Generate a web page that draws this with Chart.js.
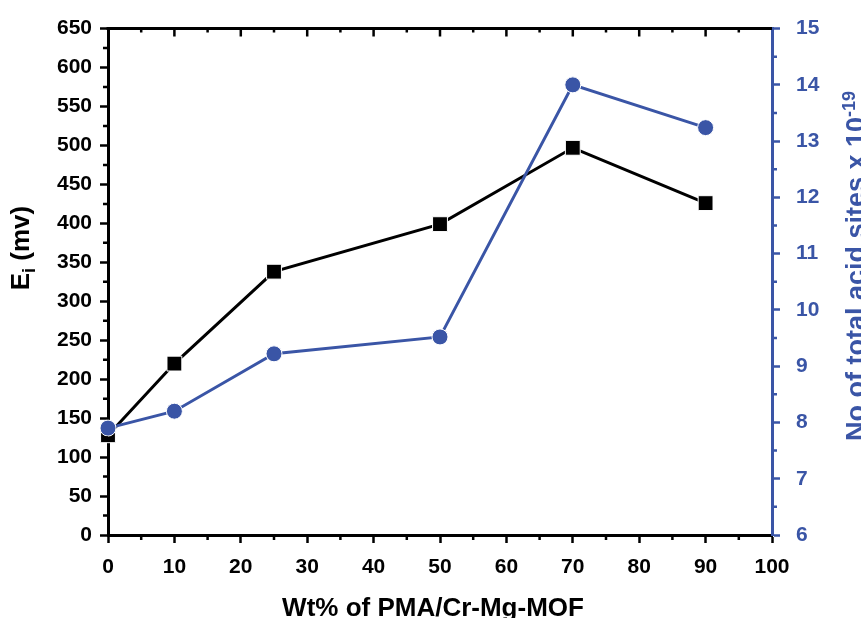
<!DOCTYPE html>
<html>
<head>
<meta charset="utf-8">
<script src="https://cdn.jsdelivr.net/npm/chart.js@4.4.1/dist/chart.umd.min.js"></script>
<style>
  html, body { margin: 0; padding: 0; background: #fff; }
  #wrap { width: 861px; height: 618px; }
</style>
</head>
<body>
<div id="wrap"><canvas id="eiChart" width="861" height="618"></canvas></div>
<script>
// values
const wtPercent = [0, 10, 25, 50, 70, 90];
const eiValues = [128, 220, 338, 399, 497, 426];
const acidSites = [7.9, 8.2, 9.22, 9.52, 14.0, 13.24];

const xMinorTicks = [5, 15, 25, 35, 45, 55, 65, 75, 85, 95];
const xMajorTicks = [10, 20, 30, 40, 50, 60, 70, 80, 90];

const BLUE = '#3a55a6';
const FONT = '"Liberation Sans", Arial, sans-serif';
const tickFont = { family: FONT, size: 21, weight: 'bold' };

// minor ticks, top frame and axis titles (Origin style)
const frameAndTitles = {
    id: 'frameAndTitles',
    afterDraw(chart) {
        const ctx = chart.ctx;
        const a = chart.chartArea;
        const x = chart.scales.x, y = chart.scales.y, y1 = chart.scales.y1;
        ctx.save();

        // top frame with inward ticks
        ctx.strokeStyle = '#000';
        ctx.lineWidth = 3;
        ctx.beginPath();
        ctx.moveTo(a.left - 1.5, a.top);
        ctx.lineTo(a.right, a.top);
        ctx.stroke();
        ctx.lineWidth = 2.5;
        ctx.beginPath();
        xMajorTicks.forEach(v => {
            const px = x.getPixelForValue(v);
            ctx.moveTo(px, a.top); ctx.lineTo(px, a.top + 8);
        });
        xMinorTicks.forEach(v => {
            const px = x.getPixelForValue(v);
            ctx.moveTo(px, a.top); ctx.lineTo(px, a.top + 4);
        });
        // bottom minor ticks
        xMinorTicks.forEach(v => {
            const px = x.getPixelForValue(v);
            ctx.moveTo(px, a.bottom); ctx.lineTo(px, a.bottom + 5);
        });
        // left minor ticks
        for (let v = 25; v < 650; v += 50) {
            const py = y.getPixelForValue(v);
            ctx.moveTo(a.left, py); ctx.lineTo(a.left - 5, py);
        }
        ctx.stroke();
        // right minor ticks
        ctx.strokeStyle = BLUE;
        ctx.beginPath();
        for (let v = 6.5; v < 15; v += 1) {
            const py = y1.getPixelForValue(v);
            ctx.moveTo(a.right, py); ctx.lineTo(a.right + 5, py);
        }
        ctx.stroke();

        // x title
        ctx.fillStyle = '#000';
        ctx.font = 'bold 26px ' + FONT;
        ctx.textAlign = 'center';
        ctx.textBaseline = 'alphabetic';
        ctx.fillText('Wt% of PMA/Cr-Mg-MOF', 433, 616);

        // left title: E_i (mv)
        ctx.save();
        ctx.translate(29, 248);
        ctx.rotate(-Math.PI / 2);
        ctx.textAlign = 'left';
        const big = 'bold 26px ' + FONT, small = 'bold 18px ' + FONT;
        ctx.font = big;
        const wE = ctx.measureText('E').width;
        const wRest = ctx.measureText(' (mv)').width;
        ctx.font = small;
        const wi = ctx.measureText('i').width;
        let sx = -(wE + wi + wRest) / 2;
        ctx.font = big;
        ctx.fillText('E', sx, 0);
        ctx.font = small;
        ctx.fillText('i', sx + wE, 6);
        ctx.font = big;
        ctx.fillText(' (mv)', sx + wE + wi, 0);
        ctx.restore();

        // right title: No of total acid sites x 10^-19
        ctx.save();
        ctx.translate(855, 266);
        ctx.rotate(-Math.PI / 2);
        ctx.fillStyle = BLUE;
        ctx.textAlign = 'left';
        ctx.font = 'bold 27px ' + FONT;
        const main = 'No of total acid sites x 10';
        const wm = ctx.measureText(main).width;
        ctx.font = small;
        const ws = ctx.measureText('-19').width;
        sx = -(wm + ws) / 2;
        ctx.font = 'bold 27px ' + FONT;
        ctx.fillText(main, sx, 10);
        ctx.font = small;
        ctx.fillText('-19', sx + wm, 0);
        ctx.restore();

        ctx.restore();
    }
};

const ctx = document.getElementById('eiChart').getContext('2d');
new Chart(ctx, {
    type: 'line',
    data: {
        datasets: [{
            label: 'No of total acid sites',
            data: wtPercent.map((w, i) => ({ x: w, y: acidSites[i] })),
            yAxisID: 'y1',
            borderColor: BLUE,
            backgroundColor: BLUE,
            borderWidth: 3,
            pointStyle: 'circle',
            pointRadius: 8,
            pointBorderColor: '#fff',
            pointBorderWidth: 1,
            clip: false
        }, {
            label: 'Ei (mv)',
            data: wtPercent.map((w, i) => ({ x: w, y: eiValues[i] })),
            yAxisID: 'y',
            borderColor: '#000',
            backgroundColor: '#000',
            borderWidth: 3,
            pointStyle: 'rect',
            pointRadius: 10.5,
            pointBorderColor: '#fff',
            pointBorderWidth: 1,
            clip: false
        }]
    },
    options: {
        responsive: false,
        animation: false,
        layout: { padding: { top: 24, left: 0, right: 0, bottom: 0 } },
        plugins: {
            legend: { display: false },
            tooltip: { enabled: false }
        },
        scales: {
            x: {
                type: 'linear',
                min: 0,
                max: 100,
                ticks: { stepSize: 10, color: '#000', font: tickFont, padding: 12, maxRotation: 0 },
                grid: { drawOnChartArea: false, drawTicks: true, tickLength: 8, tickWidth: 2.5, tickColor: '#000' },
                border: { color: '#000', width: 3 },
                afterFit: s => { s.height = 83; }
            },
            y: {
                position: 'left',
                min: 0,
                max: 650,
                ticks: { stepSize: 50, color: '#000', font: tickFont, padding: 8 },
                grid: { drawOnChartArea: false, drawTicks: true, tickLength: 8, tickWidth: 2.5, tickColor: '#000' },
                border: { color: '#000', width: 3 },
                afterFit: s => { s.width = 108; }
            },
            y1: {
                position: 'right',
                min: 6,
                max: 15,
                ticks: { stepSize: 1, color: BLUE, font: tickFont, padding: 16 },
                grid: { drawOnChartArea: false, drawTicks: true, tickLength: 8, tickWidth: 2.5, tickColor: BLUE },
                border: { color: BLUE, width: 3 },
                afterFit: s => { s.width = 89; }
            }
        }
    },
    plugins: [frameAndTitles]
});
</script>
</body>
</html>
